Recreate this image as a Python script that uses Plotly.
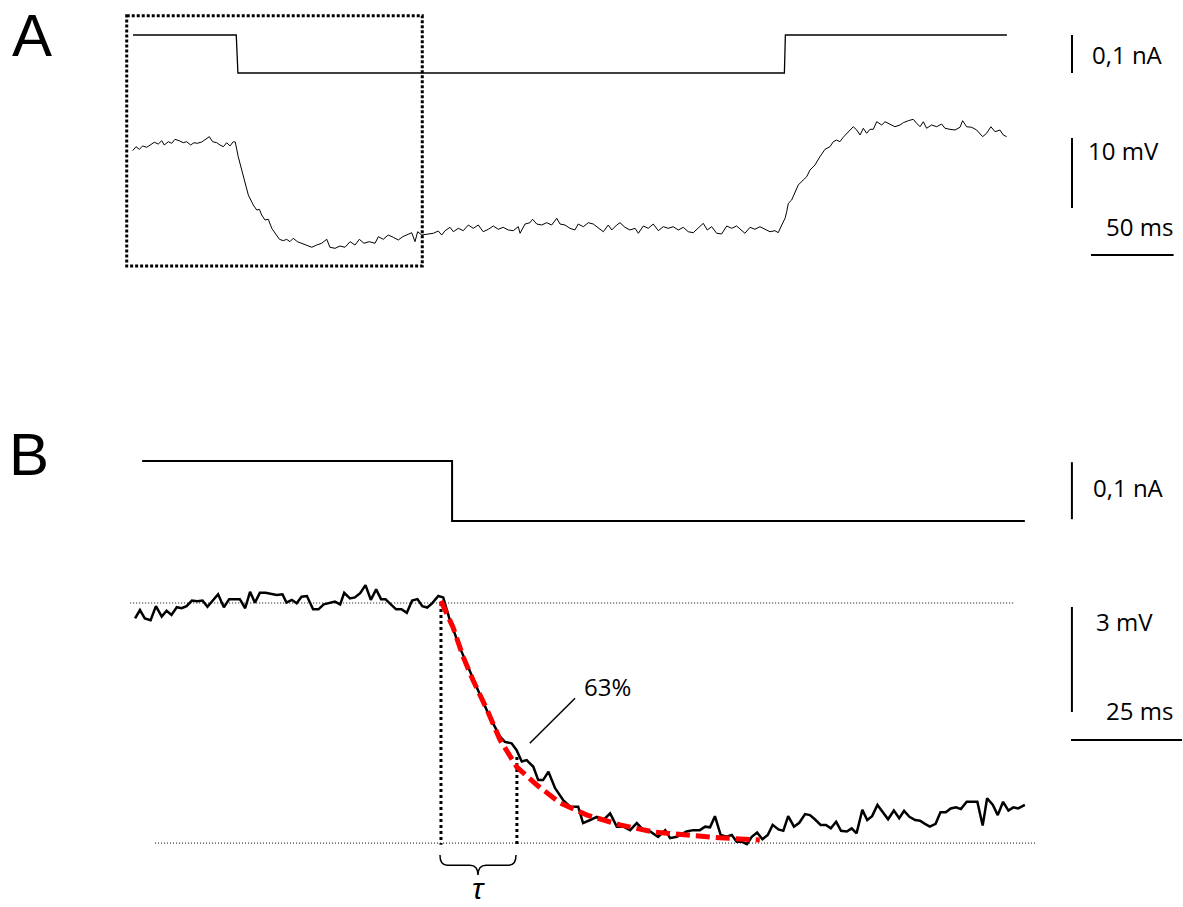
import plotly.graph_objects as go

# ---------------- Panel A data (time in ms, current in nA, voltage in mV rel. to rest)
tA_I = [0.0, 62.5, 63.5, 394.3, 394.9, 529.0]
iA = [0.0, 0.0, -0.1, -0.1, 0.0, 0.0]

tA_V = [-0.2, 1.8, 3.8, 5.9, 8.3, 10.7, 12.9, 15.3, 17.4, 18.9, 21.4, 23.4, 25.4, 28.0, 30.4,
        32.5, 34.9, 36.9, 38.9, 41.6, 43.6, 46.2, 48.2, 50.7, 52.7, 54.7, 56.7, 58.7, 60.7, 61.9,
        63.7, 65.2, 67.2, 69.8, 72.8, 74.9, 76.5, 77.9, 79.9, 81.9, 84.0, 86.0, 88.6, 91.0, 93.0,
        95.0, 97.0, 99.5, 102.1, 105.1, 108.2, 111.2, 114.2, 117.3, 119.2, 122.3, 125.3, 128.3,
        131.4, 134.4, 137.0, 139.8, 143.0, 146.5, 148.5, 151.5, 154.5, 157.6, 160.6, 163.3, 165.7,
        168.7, 170.7, 172.3, 174.8, 177.8, 181.8, 184.8, 186.9, 188.9, 191.9, 193.9, 196.9, 199.9,
        203.0, 206.0, 209.0, 212.0, 215.1, 218.1, 221.1, 224.1, 227.2, 230.2, 233.2, 234.3, 237.3,
        240.3, 241.9, 244.4, 247.4, 250.4, 253.4, 256.5, 258.5, 261.5, 264.5, 267.5, 269.5, 272.6,
        275.6, 278.6, 281.6, 284.7, 287.7, 289.8, 292.8, 294.8, 297.8, 300.8, 303.9, 305.9, 308.9,
        311.9, 314.9, 318.0, 321.0, 324.0, 327.0, 330.1, 333.1, 336.1, 339.1, 342.2, 345.2, 347.6,
        350.3, 353.3, 356.3, 359.4, 362.4, 365.4, 368.4, 370.4, 373.5, 376.5, 379.5, 382.5, 385.6,
        388.6, 390.6, 392.7, 394.7, 395.7, 396.7, 398.7, 400.7, 402.7, 405.7, 407.8, 409.8, 412.8,
        415.8, 418.9, 421.9, 423.9, 425.9, 427.9, 429.9, 433.0, 436.0, 438.1, 440.1, 442.1, 444.1,
        446.1, 448.1, 450.2, 453.2, 455.2, 458.2, 461.2, 464.3, 466.3, 469.3, 472.3, 474.4, 476.4,
        478.4, 480.4, 483.4, 486.5, 489.5, 491.5, 494.5, 497.6, 500.6, 502.2, 504.6, 507.7, 510.7,
        514.3, 516.7, 519.3, 521.8, 524.8, 526.8, 528.8]
vA = [-0.81, -0.24, -0.61, -0.14, -0.33, 0.10, 0.39, 0.14, 0.61, 0.00, 0.47, 0.24, 0.81, 0.61, 0.33,
      0.47, 0.00, 0.33, 0.24, 0.43, 0.71, 1.19, 0.47, 0.33, 0.00, -0.24, 0.33, -0.14, 0.47, 0.43,
      -1.67, -3.10, -5.00, -7.14, -8.57, -9.29, -9.19, -10.00, -10.71, -10.61, -11.90, -12.61, -13.47,
      -13.67, -13.47, -13.81, -13.33, -13.81, -14.04, -14.29, -14.61, -14.29, -14.04, -13.47, -14.61,
      -14.76, -14.43, -14.61, -13.81, -14.29, -13.47, -14.04, -13.81, -14.04, -13.10, -13.47, -12.86,
      -13.19, -13.57, -13.10, -12.86, -12.53, -13.81, -12.39, -12.86, -12.71, -12.61, -12.29, -12.86,
      -12.24, -11.76, -12.39, -11.90, -12.24, -11.43, -11.90, -11.43, -12.39, -12.04, -11.57, -12.04,
      -11.76, -12.14, -12.24, -11.67, -12.61, -11.29, -11.10, -10.61, -11.29, -11.43, -11.10, -11.43,
      -10.47, -11.29, -11.43, -11.90, -12.14, -11.29, -11.67, -11.10, -11.29, -11.90, -12.39, -11.43,
      -12.14, -11.43, -11.10, -11.76, -12.14, -11.90, -12.61, -11.57, -11.90, -11.29, -12.24, -11.67,
      -11.90, -11.67, -12.14, -11.76, -12.39, -12.53, -11.90, -11.19, -12.14, -11.67, -12.61, -12.71,
      -11.57, -11.90, -11.57, -12.14, -12.61, -11.76, -12.04, -11.67, -12.04, -12.39, -12.24, -12.53,
      -11.43, -10.47, -9.53, -8.33, -7.86, -6.90, -5.71, -5.00, -4.53, -3.57, -2.86, -1.67, -0.61,
      -0.24, 0.47, 0.71, 0.47, 1.10, 1.90, 2.61, 2.14, 1.43, 2.39, 1.67, 2.24, 2.24, 3.33, 2.86, 3.33,
      3.00, 2.61, 2.86, 3.19, 3.47, 3.67, 3.10, 2.61, 3.33, 2.39, 2.86, 2.61, 3.00, 2.39, 2.24, 2.14,
      2.53, 3.47, 2.61, 2.53, 2.14, 1.19, 1.67, 2.61, 1.90, 2.14, 1.43, 1.19]

# ---------------- Panel B data (zoom on onset; time in ms from decay onset)
tB_I = [-67.3, 2.5, 2.5, 131.5]
iB = [0.0, 0.0, -0.1, -0.1]

tB_V = [-68.9, -67.8, -66.7, -65.4, -64.2, -62.9, -61.8, -60.7, -59.5, -58.4, -57.3, -56.1, -54.9,
        -53.7, -52.6, -51.3, -50.2, -48.9, -47.7, -46.4, -45.3, -44.1, -43.0, -41.9, -40.8, -39.5,
        -38.1, -37.0, -35.7, -34.8, -33.6, -32.5, -31.4, -30.2, -28.8, -27.6, -26.4, -25.2, -23.9,
        -22.7, -21.8, -20.5, -19.4, -18.2, -17.0, -15.8, -14.6, -13.5, -12.5, -11.3, -10.1, -8.9,
        -7.7, -6.5, -5.3, -4.2, -3.1, -2.0, -0.6, 0.5,
        2.0, 4.3, 6.5, 8.8, 11.0, 13.3, 14.4, 15.9, 17.0, 18.2, 19.3, 20.8, 21.9, 23.0, 24.2, 25.7,
        27.5, 29.1, 30.9, 32.0, 33.6, 35.1, 36.6, 38.1, 39.6, 41.1, 42.6, 44.1, 45.6, 47.1, 48.9,
        50.5, 51.6, 53.1, 55.3, 56.8, 58.3, 59.5, 60.6, 61.7, 63.0, 64.3, 65.5, 66.6, 67.7, 68.9,
        70.0, 71.2, 72.4, 73.6, 74.7, 76.0, 77.1, 78.2, 79.5, 80.7, 82.0, 83.1, 84.2, 85.5, 86.7,
        87.8, 89.0, 90.1, 91.4, 92.5, 93.6, 94.9, 96.0, 97.1, 98.3, 99.6, 100.7, 102.0, 103.2,
        104.3, 105.5, 106.8, 107.9, 109.0, 110.1, 111.4, 112.5, 113.7, 114.8, 116.0, 117.1, 118.4,
        119.5, 120.8, 122.0, 123.0, 124.3, 125.4, 126.6, 127.8, 128.9, 130.0, 131.5]
vB = [-0.44, -0.20, -0.44, -0.49, -0.09, -0.39, -0.22, -0.34, -0.12, -0.15, -0.09, 0.07, 0.05,
      0.07, -0.11, 0.09, 0.25, -0.12, 0.11, 0.11, 0.11, -0.15, 0.32, 0.01, 0.29, 0.29, 0.25, 0.23,
      0.25, 0.01, 0.09, -0.01, 0.18, 0.20, -0.18, -0.18, -0.04, -0.01, 0.04, -0.04, 0.29, 0.13,
      0.16, 0.28, 0.51, 0.09, 0.39, 0.11, 0.11, -0.04, -0.18, -0.18, -0.28, 0.07, 0.11, -0.09,
      -0.13, -0.01, 0.20, 0.16,
      -0.49, -1.29, -1.97, -2.63, -3.26, -3.82, -3.97, -4.01, -4.20, -4.53, -4.49, -4.68, -5.06,
      -5.06, -4.82, -5.29, -5.63, -5.82, -5.82, -6.29, -6.20, -6.11, -6.20, -6.01, -6.39, -6.39,
      -6.49, -6.29, -6.49, -6.53, -6.68, -6.49, -6.72, -6.68, -6.53, -6.49, -6.49, -6.39, -6.41,
      -6.09, -6.63, -6.68, -6.63, -6.82, -6.82, -6.89, -6.68, -6.56, -6.75, -6.63, -6.34, -6.47,
      -6.51, -6.09, -6.39, -6.28, -6.03, -6.06, -6.18, -6.34, -6.34, -6.44, -6.25, -6.51, -6.53,
      -6.44, -6.58, -5.91, -6.20, -6.09, -5.77, -6.01, -6.18, -5.93, -6.15, -5.94, -6.11, -6.20,
      -6.22, -6.31, -6.39, -6.31, -5.98, -5.98, -5.87, -5.84, -5.89, -5.68, -5.68, -5.68, -6.36,
      -5.58, -5.77, -6.06, -5.68, -5.93, -5.84, -5.87, -5.77]

# exponential fit (red dashed)
tB_fit = [0.0, 2.7, 5.0, 7.2, 10.4, 13.3, 17.1, 21.6, 26.8, 32.9, 40.3, 47.7, 55.4, 62.8, 71.8]
vB_fit = [0.06, -0.69, -1.54, -2.20, -3.06, -3.91, -4.69, -5.20, -5.71, -6.06, -6.34, -6.54,
          -6.63, -6.71, -6.77]

vB_rest = 0.0        # upper dotted reference
vB_ss = -6.86        # lower dotted reference
tau_B = 17.1         # ms, time to 63 %
vB_at_tau = -4.4
rest_line_t = [-70.0, 129.3]
ss_line_t = [-64.4, 134.2]

FONT = "Open Sans"
FONT_PANEL = "Liberation Sans"

fig = go.Figure()

# panel A
fig.add_trace(go.Scatter(x=tA_I, y=iA, xaxis="x", yaxis="y", mode="lines",
                         line=dict(color="black", width=1.3)))
fig.add_trace(go.Scatter(x=tA_V, y=vA, xaxis="x", yaxis="y2", mode="lines",
                         line=dict(color="black", width=1)))
# panel B
fig.add_trace(go.Scatter(x=tB_I, y=iB, xaxis="x2", yaxis="y3", mode="lines",
                         line=dict(color="black", width=2)))
fig.add_trace(go.Scatter(x=rest_line_t, y=[vB_rest, vB_rest], xaxis="x2", yaxis="y4", mode="lines",
                         line=dict(color="black", width=1, dash="1px,2px")))
fig.add_trace(go.Scatter(x=ss_line_t, y=[vB_ss, vB_ss], xaxis="x2", yaxis="y4", mode="lines",
                         line=dict(color="black", width=1, dash="1px,2px")))
fig.add_trace(go.Scatter(x=[0, 0], y=[vB_rest, vB_ss - 0.05], xaxis="x2", yaxis="y4", mode="lines",
                         line=dict(color="black", width=3, dash="3px,3px")))
fig.add_trace(go.Scatter(x=[tau_B, tau_B], y=[vB_at_tau, vB_ss - 0.05], xaxis="x2", yaxis="y4",
                         mode="lines", line=dict(color="black", width=3, dash="3px,3px")))
fig.add_trace(go.Scatter(x=tB_V, y=vB, xaxis="x2", yaxis="y4", mode="lines",
                         line=dict(color="black", width=2.5)))
fig.add_trace(go.Scatter(x=tB_fit, y=vB_fit, xaxis="x2", yaxis="y4", mode="lines",
                         line=dict(color="#ff0000", width=5, dash="14px,6px")))

shapes = []
# dotted zoom box in A
shapes.append(dict(type="rect", xref="x", yref="y2", x0=-3.8, x1=175.1, y0=18.47, y1=-17.29,
                   line=dict(color="black", width=3, dash="3px,2px")))
# scale bars A
shapes.append(dict(type="line", xref="x", yref="y", x0=568.4, x1=568.4, y0=0.0, y1=-0.1,
                   line=dict(color="black", width=2)))
shapes.append(dict(type="line", xref="x", yref="y2", x0=568.4, x1=568.4, y0=1.0, y1=-9.0,
                   line=dict(color="black", width=2)))
shapes.append(dict(type="line", xref="x", yref="y2", x0=579.9, x1=629.9, y0=-15.71, y1=-15.71,
                   line=dict(color="black", width=2)))
# scale bars B
shapes.append(dict(type="line", xref="x2", yref="y3", x0=142.1, x1=142.1, y0=-0.002, y1=-0.097,
                   line=dict(color="black", width=2)))
shapes.append(dict(type="line", xref="x2", yref="y4", x0=142.1, x1=142.1, y0=-0.114, y1=-3.114,
                   line=dict(color="black", width=2)))
shapes.append(dict(type="line", xref="x2", yref="y4", x0=141.9, x1=166.9, y0=-3.914, y1=-3.914,
                   line=dict(color="black", width=2)))
# leader line for 63 %
shapes.append(dict(type="line", xref="x2", yref="y4", x0=30.2, y0=-2.72, x1=20.0, y1=-4.01,
                   line=dict(color="black", width=1.5)))
# curly brace under tau
bt = [-0.23, 1.35, 6.53, 8.33, 10.14, 15.32, 16.89]
bv = [-7.20, -7.49, -7.77]
brace = (f"M {bt[0]},{bv[0]} Q {bt[0]},{bv[1]} {bt[1]},{bv[1]} L {bt[2]},{bv[1]} "
         f"Q {bt[3]},{bv[1]} {bt[3]},{bv[2]} Q {bt[3]},{bv[1]} {bt[4]},{bv[1]} "
         f"L {bt[5]},{bv[1]} Q {bt[6]},{bv[1]} {bt[6]},{bv[0]}")
shapes.append(dict(type="path", xref="x2", yref="y4", path=brace,
                   line=dict(color="black", width=1.5)))

W, H = 1183, 907


def px(x, y):
    return x / W, 1 - y / H


annotations = []


def label(text, x, y, size, italic=False, family=FONT, xanchor="center", yanchor="middle"):
    ax, ay = px(x, y)
    annotations.append(dict(text=text, x=ax, y=ay, xref="paper", yref="paper", showarrow=False,
                            xanchor=xanchor, yanchor=yanchor,
                            font=dict(family=family, size=size, color="black",
                                      style="italic" if italic else "normal")))


label("A", 10, 0, 60, family=FONT_PANEL, xanchor="left", yanchor="top")
label("B", 7, 419, 60, family=FONT_PANEL, xanchor="left", yanchor="top")
label("0,1 nA", 1127, 54, 24)
label("10 mV", 1123, 150, 24)
label("50 ms", 1139, 227, 24)
label("0,1 nA", 1128, 488, 24)
label("3 mV", 1124, 621, 24)
label("25 ms", 1139, 710, 24)
label("63%", 607, 686, 24)
label("τ", 478, 907, 30, italic=True, family=FONT_PANEL, yanchor="bottom")

ax_common = dict(visible=False, showgrid=False, zeroline=False, fixedrange=True)
fig.update_layout(
    width=W, height=H, margin=dict(l=0, r=0, t=0, b=0),
    paper_bgcolor="white", plot_bgcolor="white", showlegend=False,
    xaxis=dict(domain=[0, 1], range=[-80.51, 635.59], anchor="y", **ax_common),
    xaxis2=dict(domain=[0, 1], range=[-99.32, 167.12], overlaying="x", anchor="y", **ax_common),
    yaxis=dict(domain=[0, 1], range=[-2.2947, 0.0921], anchor="x", **ax_common),
    yaxis2=dict(range=[-108.857, 20.714], overlaying="y", anchor="x", **ax_common),
    yaxis3=dict(range=[-0.7433, 0.7683], overlaying="y", anchor="x2", **ax_common),
    yaxis4=dict(range=[-8.686, 17.229], overlaying="y", anchor="x2", **ax_common),
    shapes=shapes, annotations=annotations,
)

fig.write_html("out.html", config={"displayModeBar": False},
               post_script="document.body.style.margin='0';document.body.style.overflow='hidden';")
